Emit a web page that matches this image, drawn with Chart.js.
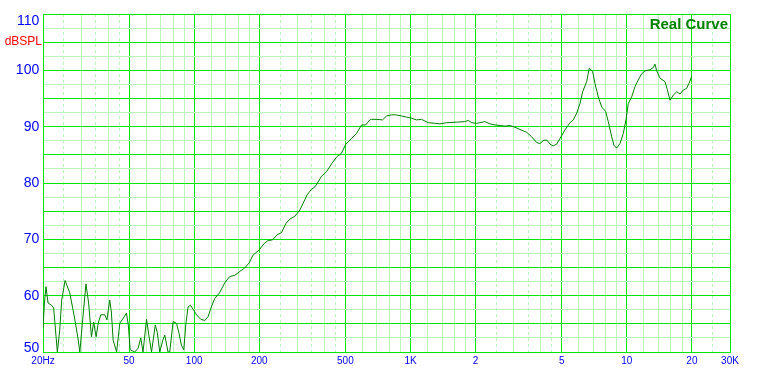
<!DOCTYPE html>
<html><head><meta charset="utf-8">
<script src="https://cdn.jsdelivr.net/npm/chart.js@4.4.1/dist/chart.umd.min.js"></script>
<style>html,body{margin:0;padding:0;background:#fff}canvas{display:block}</style>
</head><body>
<canvas id="c" width="759" height="375"></canvas>
<script>
// ---- data ----
const freqHz = [20,20.3,20.65,21.1,21.9,22.4,23.3,23.9,24.4,25.3,26.6,28.0,29.0,29.6,30.5,31.6,32.5,33.5,34.3,35.2,36.0,37.0,38.6,39.5,40.7,41.4,42.2,43.8,45.3,47.0,48.6,49.6,50.6,53.1,55.1,56.6,58.0,60.2,61.7,63.5,66.1,67.5,69.3,71.6,73.1,75.7,77.1,79.9,82.8,84.9,87.3,89.5,91.4,93.7,96.1,98.8,102.5,107.3,112,116,120,124.5,131,138.5,146,154,162.5,171,179.4,187.2,199.6,209.8,219.7,230.2,241.8,253.4,265.4,276.9,292,307.9,318.9,332.8,348.6,361.2,374.2,388,409.2,431.5,455.2,480,502.5,534,563,594,620,649,661,699,743,775,818,856,910,959,1012,1067,1125,1207,1296,1368,1469,1634,1784,1848,1922,2021,2094,2208,2330,2458,2592,2733,2882,3040,3206,3444,3632,3830,3966,4140,4275,4414,4571,4740,4910,5176,5461,5657,5866,6075,6252,6523,6706,6952,7124,7381,7653,7986,8210,8514,8724,8980,9301,9632,9914,10158,10532,10910,11300,11721,12138,12802,13260,13500,13750,14244,15018,15389,15838,16406,17010,17620,18248,18921,19392,19954];
const splDb = [54.2,58.7,61.6,58.7,58.3,57.8,50,53.9,59.2,62.7,60.5,56,52.5,50,55.7,62.1,58.7,52.7,55.3,52.7,55.1,56.6,56.6,55.7,59.2,57.1,52.1,50,55.1,56.0,56.9,54.8,50.4,50,50.7,52.5,50,55.8,53.0,50,54.8,53.5,50,52.1,53.0,50,50,55.4,55.1,53.5,51.2,50.4,54.8,58.0,58.3,57.6,56.6,55.8,55.6,56.3,58.0,59.5,60.5,62.3,63.4,63.6,64.3,64.9,65.8,67.2,68.1,69.2,69.8,69.9,70.8,71.2,72.8,73.6,74.1,75.2,76.4,77.9,78.9,79.3,80.2,81.2,82.0,83.4,84.6,85.3,86.9,87.9,88.8,90.3,90.3,91.2,91.3,91.3,91.2,91.9,92.1,92.1,91.9,91.7,91.5,91.2,91.3,90.7,90.6,90.5,90.7,90.8,90.9,91.1,90.7,90.6,90.7,90.9,90.5,90.3,90.2,90.1,90.2,89.9,89.5,89.0,88.2,87.2,87.0,87.6,87.6,86.9,86.6,86.9,87.9,89.4,90.7,91.2,92.4,94.1,96.2,98.0,100.4,99.8,97.7,95.3,93.5,92.7,90.9,88.2,86.7,86.2,87.0,88.8,91.2,94.1,95.3,97.1,98.3,99.4,99.9,100.1,100.5,101.1,99.9,98.6,98.0,96.6,94.7,95.6,96.2,95.8,96.5,96.8,97.7,98.9];

const xMajorTicks = [20,50,100,200,500,1000,2000,5000,10000,20000,30000];
const xMinorTicks = [30,40,60,70,80,90,120,140,160,180,300,400,600,700,800,900,1200,1400,1600,1800,3000,4000,6000,7000,8000,9000,12000,14000,16000,18000];
const xDashedTicks = [25,35,45,250,350,450,2500,3500,4500,25000];
const xLabelValues = [20,50,100,200,500,1000,2000,5000,10000,20000,30000];
const xLabelTexts = ['20Hz','50','100','200','500','1K','2','5','10','20','30K'];
const yTicks = [50,52.5,55,57.5,60,62.5,65,67.5,70,72.5,75,77.5,80,82.5,85,87.5,90,92.5,95,97.5,100,102.5,105,107.5,110];
const yLabelValues = [50,60,70,80,90,100,105,110];
const yLabelTexts = ['50','60','70','80','90','100','dBSPL','110'];
const curveName = 'Real Curve';

// ---- styles ----
const BRIGHT = '#00e600', LIGHT = '#bcf5bc', CURVE = '#008000', BLUE = '#0000ff', RED = '#ff0000';
const FAM = '"Liberation Sans", Arial, sans-serif';
const THIN = '\u2009';

const namePlugin = {
  id: 'curveName',
  afterDraw(chart) {
    const {ctx, chartArea: a} = chart;
    ctx.save();
    ctx.font = 'bold 15px ' + FAM;
    ctx.fillStyle = CURVE;
    ctx.textAlign = 'right';
    ctx.textBaseline = 'alphabetic';
    ctx.fillText(curveName, a.right - 2, a.top + 15);
    ctx.restore();
  }
};

const gridOnlyX = (ticksArr, color, dash) => ({
  type: 'logarithmic', min: 20, max: 30000, position: 'top',
  afterBuildTicks: s => { s.ticks = ticksArr.map(v => ({value: v})); },
  afterFit: s => { s.height = 0; s.paddingLeft = 0; s.paddingRight = 0; },
  grid: {color: color, lineWidth: 1, drawTicks: false},
  border: {display: false, dash: dash},
  ticks: {display: false}
});

new Chart(document.getElementById('c'), {
  type: 'line',
  data: {
    datasets: [{
      label: curveName,
      data: freqHz.map((f, i) => ({x: f, y: splDb[i]})),
      borderColor: CURVE, borderWidth: 1, pointRadius: 0, tension: 0, fill: false
    }]
  },
  plugins: [namePlugin],
  options: {
    responsive: false, animation: false, devicePixelRatio: 1,
    layout: {padding: {top: 14, right: 29, left: 0, bottom: 0}},
    plugins: {legend: {display: false}, tooltip: {enabled: false}},
    scales: {
      xd: gridOnlyX(xDashedTicks, LIGHT, [3, 3]),
      xn: gridOnlyX(xMinorTicks, LIGHT, []),
      x: {
        type: 'logarithmic', min: 20, max: 30000, position: 'bottom',
        afterBuildTicks: s => { s.ticks = xMajorTicks.map(v => ({value: v})); },
        afterFit: s => { s.height = 23; s.paddingLeft = 0; s.paddingRight = 0; },
        grid: {color: BRIGHT, lineWidth: 1, drawTicks: false},
        border: {color: BRIGHT, width: 1},
        ticks: {
          autoSkip: false, maxRotation: 0, minRotation: 0, padding: 3, color: BLUE,
          font: {family: FAM, size: 10},
          callback: v => { const i = xLabelValues.indexOf(v); return i >= 0 ? xLabelTexts[i] : ''; }
        }
      },
      y: {
        type: 'linear', min: 50, max: 110,
        afterBuildTicks: s => { s.ticks = yTicks.map(v => ({value: v})); },
        afterFit: s => { s.width = 43; s.paddingTop = 0; s.paddingBottom = 0; },
        grid: {color: c => (c.tick && c.tick.value % 5 === 0) ? BRIGHT : LIGHT, lineWidth: 1, drawTicks: false},
        border: {color: BRIGHT, width: 1},
        ticks: {
          autoSkip: false, padding: 1,
          color: c => (c.tick && c.tick.value === 105) ? RED : BLUE,
          font: c => {
            const v = c.tick ? c.tick.value : 0;
            if (v === 105) return {family: FAM, size: 12};
            if (v === 110) return {family: FAM, size: 14, lineHeight: 1.0};
            if (v === 50) return {family: FAM, size: 14, lineHeight: 0.6};
            return {family: FAM, size: 14};
          },
          callback: v => {
            const i = yLabelValues.indexOf(v);
            if (i < 0) return '';
            if (v === 105) return yLabelTexts[i];
            const t = yLabelTexts[i] + THIN;
            if (v === 110) return ['', t];
            if (v === 50) return [t, ''];
            return t;
          }
        }
      }
    }
  }
});
</script>
</body></html>
